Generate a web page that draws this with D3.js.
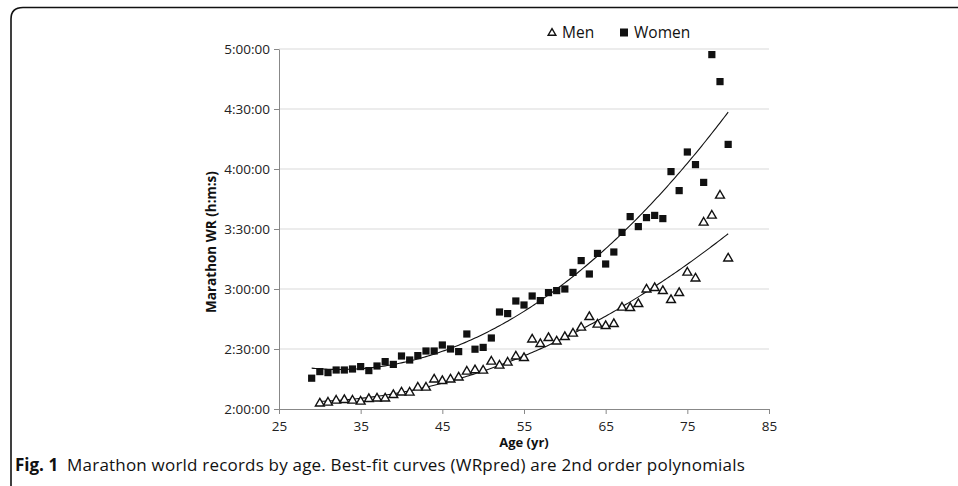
<!DOCTYPE html>
<html><head><meta charset="utf-8">
<script src="https://cdn.jsdelivr.net/npm/d3@7"></script>
<style>
html,body{margin:0;padding:0;background:#fff;}
svg{display:block;font-family:"Open Sans",sans-serif;}
</style></head>
<body><svg id="c" width="958" height="486"></svg>
<script>
// Ages (years)
const womenAges = d3.range(29, 81);
const menAges = d3.range(30, 81);
// World record times in minutes
const womenTimes = [135.4,138.7,138.2,139.5,139.5,140,141.2,139.2,141.5,143.7,142.3,146.5,144.5,146.7,149,149,152,150,148.7,157.5,149.9,150.8,155.5,168.5,167.7,174,172,176.5,174.2,178.2,179.2,180,188.3,194.2,187.5,197.8,192.5,198.5,208.3,216.2,211.2,215.7,216.8,215.2,238.7,229.2,248.5,242.2,233.3,297.2,283.7,252.3];
const menTimes = [122.8,123.2,124.2,124.5,124.2,123.7,125,125.3,125.3,127,128.3,128.2,130.7,130.7,134.8,134,134.8,135.8,138.7,139.4,139.2,143.7,141.7,143.2,146.3,145.5,154.8,152.5,155.5,153.8,156,157.7,160.7,166,162.2,161.5,162.5,170.7,170.5,172.5,179.8,180.5,179,174.5,178,188.2,185.3,213.2,216.7,226.7,195.3];
const xTicks = [25,35,45,55,65,75,85];
const yTicks = [120,150,180,210,240,270,300];
const seriesNames = ["Men","Women"];
const caption = ["Fig. 1", "Marathon world records by age. Best-fit curves (WRpred) are 2nd order polynomials"];

const svg = d3.select("#c");
// frame
svg.append("path").attr("d","M11,486 L11,19 Q11,7.5 23,7.5 L958,7.5")
  .attr("fill","none").attr("stroke","#111").attr("stroke-width",1.6);

const x = d3.scaleLinear().domain([25,85]).range([279,769]);
const y = d3.scaleLinear().domain([120,300]).range([409,49]);

function fmt(m){const h=Math.floor(m/60), mm=Math.round(m%60);return h+":"+String(mm).padStart(2,"0")+":00";}

// gridlines
svg.append("g").selectAll("line").data(yTicks.slice(1)).join("line")
  .attr("x1",x(25)).attr("x2",x(85)).attr("y1",d=>y(d)).attr("y2",d=>y(d))
  .attr("stroke","#d9d9d9").attr("stroke-width",1);

const ya = svg.append("g").attr("transform",`translate(${x(25)},0)`)
  .call(d3.axisLeft(y).tickValues(yTicks).tickFormat(fmt).tickSize(5).tickSizeOuter(0).tickPadding(4));
const xa = svg.append("g").attr("transform",`translate(0,${y(120)})`)
  .call(d3.axisBottom(x).tickValues(xTicks).tickSize(5).tickSizeOuter(0).tickPadding(7));
[ya,xa].forEach(a=>{
  a.select(".domain").attr("stroke","#888");
  a.selectAll(".tick line").attr("stroke","#888");
  a.selectAll("text").attr("font-size",13.5).attr("fill","#222").attr("font-family","Open Sans, sans-serif");
});

// axis titles
svg.append("text").attr("transform",`translate(216,242) rotate(-90)`).attr("text-anchor","middle")
  .attr("font-size",13.5).attr("font-weight","bold").attr("fill","#111").text("Marathon WR (h:m:s)");
svg.append("text").attr("x",524).attr("y",447).attr("text-anchor","middle")
  .attr("font-size",13).attr("font-weight","bold").attr("fill","#111").text("Age (yr)");

// quadratic least-squares fit
function fit2(xs, ys){
  let S=[0,0,0,0,0], T=[0,0,0];
  xs.forEach((xv,i)=>{let p=1;for(let k=0;k<5;k++){S[k]+=p;if(k<3)T[k]+=p*ys[i];p*=xv;}});
  const A=[[S[0],S[1],S[2],T[0]],[S[1],S[2],S[3],T[1]],[S[2],S[3],S[4],T[2]]];
  for(let i=0;i<3;i++){for(let j=i+1;j<3;j++){const f=A[j][i]/A[i][i];for(let k=i;k<4;k++)A[j][k]-=f*A[i][k];}}
  const c=[0,0,0];
  for(let i=2;i>=0;i--){let s=A[i][3];for(let k=i+1;k<3;k++)s-=A[i][k]*c[k];c[i]=s/A[i][i];}
  return a=>c[0]+c[1]*a+c[2]*a*a;
}
const line = d3.line().x(d=>x(d[0])).y(d=>y(d[1]));
[[womenAges,womenTimes],[menAges,menTimes]].forEach(([ax,ts])=>{
  const f = fit2(ax,ts);
  const pts = d3.range(ax[0], ax[ax.length-1]+0.01, 0.25).map(a=>[a,f(a)]);
  svg.append("path").attr("d",line(pts)).attr("fill","none").attr("stroke","#111").attr("stroke-width",1.1);
});

// markers
const tri = d3.symbol().type(d3.symbolTriangle).size(34);
svg.append("g").selectAll("path").data(menAges.map((a,i)=>[a,menTimes[i]])).join("path")
  .attr("d",tri).attr("transform",d=>`translate(${x(d[0])},${y(d[1])})`)
  .attr("fill","#fff").attr("stroke","#111").attr("stroke-width",1.4);
svg.append("g").selectAll("rect").data(womenAges.map((a,i)=>[a,womenTimes[i]])).join("rect")
  .attr("x",d=>x(d[0])-3.6).attr("y",d=>y(d[1])-3.6).attr("width",7.2).attr("height",7.2).attr("fill","#111");

// legend
const lg = svg.append("g");
lg.append("path").attr("d",d3.symbol().type(d3.symbolTriangle).size(26)).attr("transform","translate(552,33)")
  .attr("fill","#fff").attr("stroke","#111").attr("stroke-width",1.4);
lg.append("text").attr("x",562).attr("y",38).attr("font-size",15.5).attr("fill","#111").text(seriesNames[0]);
lg.append("rect").attr("x",620).attr("y",28.5).attr("width",8).attr("height",8).attr("fill","#111");
lg.append("text").attr("x",634).attr("y",38).attr("font-size",15.5).attr("fill","#111").text(seriesNames[1]);

// caption
const cap = svg.append("text").attr("x",15).attr("y",471).attr("font-size",17).attr("fill","#111");
cap.append("tspan").attr("font-weight","bold").text(caption[0]);
cap.append("tspan").attr("dx",9).attr("letter-spacing",0.2).text(caption[1]);
</script></body></html>
